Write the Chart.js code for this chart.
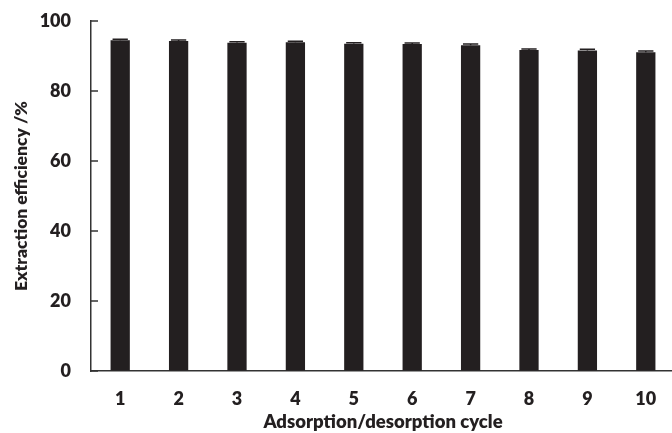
<!DOCTYPE html>
<html lang="en">
<head>
    <meta charset="UTF-8">
    <title>Extraction efficiency per cycle</title>
    <style>
        html, body { margin: 0; padding: 0; background: #fff; overflow: hidden; }
        .wrap { width: 700px; height: 433px; }
    </style>
</head>
<body>
    <div class="wrap"><canvas id="cycleChart"></canvas></div>

    <script src="https://cdn.jsdelivr.net/npm/chart.js"></script>
    <script>
        // values
        const cycles = ['1', '2', '3', '4', '5', '6', '7', '8', '9', '10'];
        const efficiency = [94.5, 94.3, 93.8, 93.9, 93.5, 93.4, 93.1, 91.7, 91.6, 91.1];
        const errors = [0.3, 0.3, 0.3, 0.3, 0.3, 0.3, 0.3, 0.3, 0.3, 0.3];
        const yTicks = [0, 20, 40, 60, 80, 100];

        const ink = '#231f20';
        const axisColor = '#333';
        const font = "Lato, 'Open Sans', sans-serif";

        // small error bars on top of each bar
        const errorBars = {
            id: 'errorBars',
            afterDatasetsDraw(chart) {
                const ctx = chart.ctx;
                const y = chart.scales.y;
                const meta = chart.getDatasetMeta(0);
                ctx.save();
                ctx.strokeStyle = ink;
                ctx.lineWidth = 1.5;
                meta.data.forEach((bar, i) => {
                    const top = y.getPixelForValue(efficiency[i] + errors[i]);
                    const half = bar.width / 2 - 2;
                    ctx.beginPath();
                    ctx.moveTo(bar.x, bar.y);
                    ctx.lineTo(bar.x, top);
                    ctx.moveTo(bar.x - half, top);
                    ctx.lineTo(bar.x + half, top);
                    ctx.stroke();
                });
                ctx.restore();
            }
        };

        // y tick marks point inward, into the plot
        const innerTicks = {
            id: 'innerTicks',
            afterDraw(chart) {
                const ctx = chart.ctx;
                const y = chart.scales.y;
                const left = chart.chartArea.left;
                ctx.save();
                ctx.strokeStyle = axisColor;
                ctx.lineWidth = 1.5;
                y.ticks.forEach(t => {
                    const py = y.getPixelForValue(t.value);
                    ctx.beginPath();
                    ctx.moveTo(left, py);
                    ctx.lineTo(left + 7, py);
                    ctx.stroke();
                });
                ctx.restore();
            }
        };

        new Chart(document.getElementById('cycleChart'), {
            type: 'bar',
            data: {
                labels: cycles,
                datasets: [{
                    data: efficiency,
                    backgroundColor: ink,
                    borderWidth: 0,
                    barPercentage: 0.33,
                    categoryPercentage: 1
                }]
            },
            options: {
                responsive: true,
                maintainAspectRatio: false,
                animation: false,
                devicePixelRatio: 1,
                layout: { padding: { top: 21, right: 25, left: 0, bottom: 0 } },
                plugins: { legend: { display: false }, tooltip: { enabled: false } },
                scales: {
                    x: {
                        afterFit(axis) { axis.height = 62; },
                        grid: { display: false, drawTicks: false },
                        border: { color: axisColor, width: 1.5 },
                        ticks: { color: ink, padding: 17, font: { family: font, size: 18, weight: 800 } },
                        title: {
                            display: true,
                            text: 'Adsorption/desorption cycle',
                            color: ink,
                            padding: { top: 0, bottom: 0 },
                            font: { family: font, size: 18.5, weight: 800 }
                        }
                    },
                    y: {
                        min: 0,
                        max: 100,
                        afterBuildTicks(axis) { axis.ticks = yTicks.map(v => ({ value: v })); },
                        afterFit(axis) { axis.width = 91; },
                        // invisible 20px tick gap keeps labels off the axis without padding the top
                        grid: { drawOnChartArea: false, drawTicks: true, tickLength: 20, tickColor: 'rgba(0,0,0,0)' },
                        border: { color: axisColor, width: 1.5 },
                        ticks: { color: ink, padding: 0, font: { family: font, size: 18, weight: 800 } },
                        title: {
                            display: true,
                            text: 'Extraction efficiency /%',
                            color: ink,
                            padding: { top: 11, bottom: 0 },
                            font: { family: font, size: 17.5, weight: 800 }
                        }
                    }
                }
            },
            plugins: [errorBars, innerTicks]
        });
    </script>
</body>
</html>
